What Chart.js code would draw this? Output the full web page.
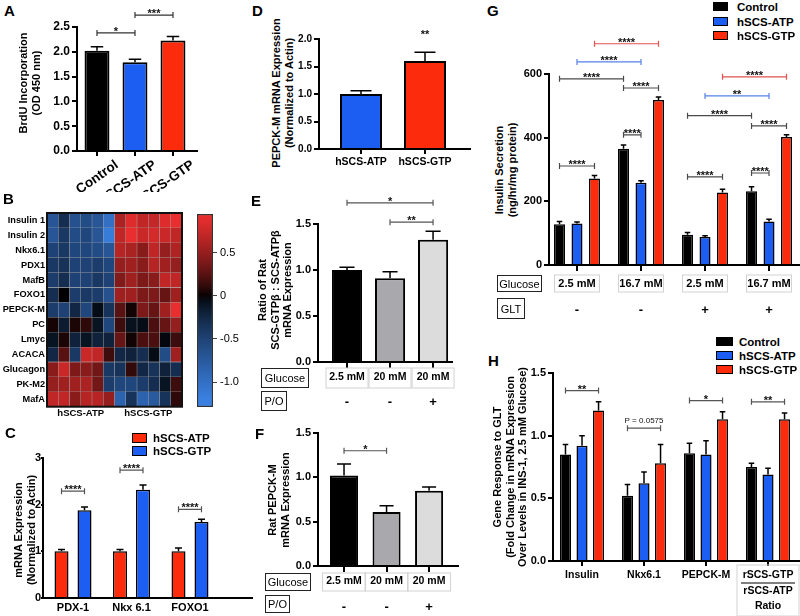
<!DOCTYPE html>
<html>
<head>
<meta charset="utf-8">
<script src="https://cdn.jsdelivr.net/npm/chart.js@4.4.1/dist/chart.umd.min.js"></script>
<style>
  body { margin: 0; background: #fff; }
  #fig { position: relative; width: 800px; height: 616px; overflow: hidden; font-family: 'Liberation Sans', Arial, sans-serif; color: #000; }
  #fig canvas { position: absolute; }
  .ytitle { position: absolute; white-space: nowrap; font-weight: bold; font-size: 11px; line-height: 12.5px; text-align: center; transform: translate(-50%, -50%) rotate(-90deg); }
  .letter { position: absolute; font-weight: bold; font-size: 15px; line-height: 15px; }
  .key { position: absolute; border: 1.5px solid #000; box-sizing: border-box; }
  .lab { position: absolute; font-weight: bold; font-size: 11.5px; white-space: nowrap; transform: translateY(-50%); }
  .hdr { position: absolute; border: 1.5px solid #222; box-sizing: border-box; font-size: 11px; display: flex; align-items: center; justify-content: center; }
</style>
</head>
<body>
<div id="fig"></div>
<script>
// ---------- data ----------
// A
const aLabels = ['Control', 'hSCS-ATP', 'hSCS-GTP'];
const aMeans = [2.02, 1.79, 2.23];
const aErr = [2.10, 1.85, 2.31];

// B heatmap (rows = genes, columns = 6 hSCS-ATP then 6 hSCS-GTP samples)
const genes = ['Insulin 1', 'Insulin 2', 'Nkx6.1', 'PDX1', 'MafB', 'FOXO1', 'PEPCK-M', 'PC', 'Lmyc', 'ACACA', 'Glucagon', 'PK-M2', 'MafA'];
const heatGroups = ['hSCS-ATP', 'hSCS-GTP'];
const heat = [
  [-0.70, -0.30, -0.65, -0.60, -0.70, -1.00, 0.60, 0.85, 0.70, 0.72, 0.85, 0.90],
  [-0.70, -0.40, -0.60, -0.55, -0.70, -1.15, 0.70, 0.92, 0.75, 0.80, 0.75, 0.70],
  [-0.50, -0.40, -0.55, -0.55, -0.60, -0.70, 0.65, 0.60, 0.45, 0.70, 0.50, 0.62],
  [-0.40, -0.35, -0.50, -0.50, -0.45, -0.55, 0.50, 0.55, 0.45, 0.65, 0.55, 0.50],
  [-0.45, -0.30, -0.50, -0.50, -0.40, -0.50, 0.42, 0.55, 0.40, 0.45, 0.70, 0.70],
  [-0.30, 0.00, -0.45, -0.40, -0.45, -0.65, 0.55, 0.55, 0.40, 0.40, 0.30, 0.55],
  [-0.45, -0.50, -0.25, -0.55, -0.05, -0.35, 0.25, 0.03, 0.40, 0.30, 0.55, 0.90],
  [0.04, -0.15, 0.05, 0.10, -0.10, -0.55, 0.15, -0.08, -0.05, 0.20, 0.30, 0.50],
  [-0.10, 0.05, -0.20, -0.10, -0.20, -0.20, 0.30, 0.03, 0.20, 0.20, -0.03, 0.15],
  [-0.25, 0.25, -0.40, 0.75, 0.70, 0.15, -0.25, -0.20, -0.30, -0.05, -0.60, 0.55],
  [0.45, 0.75, 0.40, 0.45, 0.35, -0.40, -0.35, 0.12, -0.25, -0.35, -0.20, -0.30],
  [0.50, 0.55, 0.55, 0.60, 0.35, -0.45, -0.55, -0.55, -0.45, -0.30, -0.10, 0.15],
  [0.70, 0.70, 0.45, 0.65, 0.65, 0.50, -0.85, -0.35, -0.85, -0.75, -0.35, 0.10]
];
const heatRange = [-1.29, 0.95];
const barTicks = [0.5, 0, -0.5, -1.0];

// C
const cLabels = ['PDX-1', 'Nkx 6.1', 'FOXO1'];
const cSeries = ['hSCS-ATP', 'hSCS-GTP'];
const cAtp = [1.0, 1.0, 1.0];
const cAtpErr = [1.04, 1.04, 1.07];
const cGtp = [1.88, 2.32, 1.63];
const cGtpErr = [1.95, 2.42, 1.69];

// D
const dLabels = ['hSCS-ATP', 'hSCS-GTP'];
const dMeans = [1.0, 1.6];
const dErr = [1.06, 1.76];

// E
const eGlucose = ['2.5 mM', '20 mM', '20 mM'];
const ePO = ['-', '-', '+'];
const eMeans = [1.0, 0.91, 1.33];
const eErr = [1.03, 0.98, 1.42];

// F
const fGlucose = ['2.5 mM', '20 mM', '20 mM'];
const fPO = ['-', '-', '+'];
const fMeans = [1.02, 0.61, 0.85];
const fErr = [1.15, 0.68, 0.89];

// G
const series = ['Control', 'hSCS-ATP', 'hSCS-GTP'];
const gGlucose = ['2.5 mM', '16.7 mM', '2.5 mM', '16.7 mM'];
const gGlt = ['-', '-', '+', '+'];
const gControl = [128, 365, 95, 232];
const gControlErr = [137, 377, 102, 246];
const gAtp = [130, 258, 88, 137];
const gAtpErr = [135, 265, 92, 144];
const gGtp = [272, 518, 228, 402];
const gGtpErr = [281, 528, 238, 409];

// H
const hLabels = ['Insulin', 'Nkx6.1', 'PEPCK-M', ['rSCS-GTP', 'rSCS-ATP', 'Ratio']];
const hControl = [0.85, 0.52, 0.86, 0.75];
const hControlErr = [0.93, 0.61, 0.94, 0.78];
const hAtp = [0.92, 0.62, 0.85, 0.69];
const hAtpErr = [1.00, 0.71, 0.96, 0.74];
const hGtp = [1.20, 0.78, 1.13, 1.13];
const hGtpErr = [1.27, 0.93, 1.19, 1.18];

// significance marks: [from [dataset, index], to [dataset, index], level, text, colour]
const aSig = [[[0, 0], [0, 1], 2.38, '*'], [[0, 1], [0, 2], 2.74, '***']];
const cSig = [[[0, 0], [1, 0], 2.29, '****'], [[0, 1], [1, 1], 2.74, '****'], [[0, 2], [1, 2], 1.90, '****']];
const dSig = [[[0, 1], null, 2.05, '**']];
const eSig = [[[0, 0], [0, 2], 1.73, '*'], [[0, 1], [0, 2], 1.52, '**']];
const fSig = [[[0, 0], [0, 1], 1.30, '*']];
const gSig = [
  [[2, 0], [2, 1], 695, '****', 'red'], [[1, 0], [1, 1], 638, '****', 'blue'],
  [[0, 0], [0, 1], 585, '****'], [[0, 1], [2, 1], 556, '****'],
  [[0, 1], [1, 1], 409, '****'], [[0, 0], [2, 0], 311, '****'],
  [[2, 2], [2, 3], 591, '****', 'red'], [[1, 2], [1, 3], 531, '**', 'blue'],
  [[0, 2], [0, 3], 469, '****'], [[0, 3], [2, 3], 437, '****'],
  [[0, 3], [1, 3], 289, '****'], [[0, 2], [2, 2], 277, '****']
];
const hSig = [[[0, 0], [2, 0], 1.36, '**'], [[0, 1], [2, 1], 1.06, 'P = 0.0575'], [[0, 2], [2, 2], 1.28, '*'], [[0, 3], [2, 3], 1.27, '**']];

// ---------- styles ----------
const FONT = "'Liberation Sans', Arial, sans-serif";
const black = '#000', blue = '#1d5ef2', red = '#fb2b0c', gray = '#a9a9ad', light = '#dcdcdc';
const sigColors = { red: '#e4514f', blue: '#5581e8' };

Chart.defaults.font.family = FONT;
Chart.defaults.font.size = 11;
Chart.defaults.font.weight = 'bold';
Chart.defaults.color = '#000';

const fig = document.getElementById('fig');

function canvas(box) {
  const c = document.createElement('canvas');
  c.width = box[2] - box[0];
  c.height = box[3] - box[1];
  c.style.left = box[0] + 'px';
  c.style.top = box[1] + 'px';
  fig.appendChild(c);
  return c;
}

function html(cls, content, style) {
  const d = document.createElement('div');
  d.className = cls;
  d.innerHTML = content;
  Object.assign(d.style, style);
  fig.appendChild(d);
  return d;
}

const xy = vals => vals.map((v, i) => ({ x: i, y: v }));

// error bars, significance brackets, extra table rows
const extras = {
  id: 'extras',
  afterDatasetsDraw(chart, args, o) {
    const ctx = chart.ctx, ys = chart.scales.y, xs = chart.scales.x;
    const barX = (d, i) => chart.getDatasetMeta(d).data[i].x;
    const base = chart.chartArea.bottom;
    ctx.save();
    chart.data.datasets.forEach((ds, d) => {
      if (!ds.err) return;
      chart.getDatasetMeta(d).data.forEach((bar, i) => {
        const top = ys.getPixelForValue(ds.err[i]);
        const cap = bar.width / 4;
        ctx.beginPath();
        ctx.moveTo(bar.x, bar.y);
        ctx.lineTo(bar.x, top);
        ctx.moveTo(bar.x - cap, top);
        ctx.lineTo(bar.x + cap, top);
        ctx.strokeStyle = '#000';
        ctx.lineWidth = o.errWidth || 1.5;
        ctx.stroke();
      });
    });
    (o.sig || []).forEach(([a, b, v, label, col]) => {
      const y = ys.getPixelForValue(v);
      const xa = barX(a[0], a[1]);
      const xb = b ? barX(b[0], b[1]) : xa;
      if (b) {
        ctx.beginPath();
        ctx.moveTo(xa, y); ctx.lineTo(xb, y);
        ctx.moveTo(xa, y - 3); ctx.lineTo(xa, y + 3);
        ctx.moveTo(xb, y - 3); ctx.lineTo(xb, y + 3);
        ctx.strokeStyle = sigColors[col] || o.sigColor || '#555';
        ctx.lineWidth = 1.2;
        ctx.stroke();
      }
      const star = /^\*+$/.test(label);
      ctx.font = star ? 'bold 11px ' + FONT : '8px ' + FONT;
      ctx.fillStyle = '#111';
      ctx.textAlign = 'center';
      ctx.textBaseline = 'alphabetic';
      ctx.fillText(label, (xa + xb) / 2, star ? y + 2 : y - 5);
    });
    if (o.table) {
      const t = o.table;
      xs.ticks.forEach((tk, i) => {
        const x = xs.getPixelForValue(tk.value);
        ctx.strokeStyle = '#d2d2d2';
        ctx.lineWidth = 1;
        ctx.strokeRect(x - t.boxW / 2, base + t.box[0], t.boxW, t.box[1] - t.box[0]);
        ctx.font = 'bold 13px ' + FONT;
        ctx.fillStyle = '#000';
        ctx.textAlign = 'center';
        ctx.textBaseline = 'middle';
        ctx.fillText(t.row[i], x, base + t.rowDy);
      });
    }
    if (o.fraction) {
      const f = o.fraction, x = xs.getPixelForValue(f.index);
      ctx.strokeStyle = '#000';
      ctx.lineWidth = 1;
      ctx.beginPath();
      ctx.moveTo(x - f.half, base + f.dy);
      ctx.lineTo(x + f.half, base + f.dy);
      ctx.stroke();
      ctx.strokeStyle = '#d2d2d2';
      ctx.strokeRect(x - f.boxW / 2, base + f.box[0], f.boxW, f.box[1] - f.box[0]);
    }
    ctx.restore();
  }
};

const frame = {
  id: 'frame',
  afterDatasetsDraw(chart) {
    const a = chart.chartArea, ctx = chart.ctx;
    ctx.save();
    ctx.strokeStyle = '#111';
    ctx.lineWidth = 2;
    ctx.strokeRect(a.left, a.top, a.right - a.left, a.bottom - a.top);
    ctx.restore();
  }
};

function barChart(cfg) {
  const [L, T, R, B] = cfg.box;
  const [x0, y0, x1, y1] = cfg.area;
  return new Chart(canvas(cfg.box), {
    type: 'bar',
    data: { datasets: cfg.datasets },
    options: {
      responsive: false,
      animation: false,
      layout: { padding: { left: 0, top: y0 - T, right: R - x1, bottom: 0 } },
      plugins: { legend: { display: false }, tooltip: { enabled: false }, extras: cfg.extras },
      scales: {
        x: {
          type: 'linear',
          offset: false,
          min: cfg.xRange[0],
          max: cfg.xRange[1],
          afterFit: s => { s.height = B - y1; },
          afterBuildTicks: s => { s.ticks = cfg.labels.map((_, i) => ({ value: i })); },
          ticks: Object.assign({ autoSkip: false, maxRotation: 0, padding: 3, callback: v => cfg.labels[v] }, cfg.xTicks),
          grid: { offset: false, drawOnChartArea: false, drawTicks: cfg.xTickLen !== 0, color: '#000', lineWidth: 2, tickLength: cfg.xTickLen || 5 },
          border: { color: '#000', width: 2 }
        },
        y: {
          min: 0,
          max: cfg.yMax,
          afterFit: s => { s.width = x0 - L; },
          ticks: Object.assign({ stepSize: cfg.yStep, padding: 2, callback: v => v.toFixed(cfg.dec) }, cfg.yTicks),
          grid: { drawOnChartArea: false, color: '#000', lineWidth: 2, tickLength: cfg.yTickLen || 5 },
          border: { color: '#000', width: 2 }
        }
      }
    },
    plugins: [extras]
  });
}

function heatColor(v) {
  let r, g, b;
  if (v >= 0) {
    const t = Math.pow(Math.min(v / 0.9, 1), 0.75);
    r = 232 * t; g = 46 * t; b = 46 * t;
  } else {
    const t = Math.pow(Math.min(-v / 1.2, 1), 0.75);
    r = 58 * t; g = 128 * t; b = 225 * t;
  }
  return `rgb(${Math.round(r)},${Math.round(g)},${Math.round(b)})`;
}

// ---------- A ----------
barChart({
  box: [40, 0, 205, 192], area: [77, 27, 197, 151],
  xRange: [-0.526, 2.632], labels: aLabels,
  yMax: 2.5, yStep: 0.5, dec: 1, yTicks: { font: { size: 12 } },
  xTicks: { minRotation: 35, maxRotation: 35, labelOffset: 20, padding: 1, font: { size: 13.5 } },
  datasets: [{ data: xy(aMeans), err: aErr, backgroundColor: [black, blue, red], borderColor: '#000', borderWidth: 2, categoryPercentage: 0.8, barPercentage: 0.82 }],
  extras: { sig: aSig, sigColor: '#333' }
});

// ---------- B heatmap ----------
new Chart(canvas([0, 195, 190, 422]), {
  type: 'bar',
  data: {
    labels: genes,
    datasets: heat[0].map((_, c) => ({
      data: genes.map(() => 1),
      backgroundColor: heat.map(row => heatColor(row[c])),
      borderColor: 'rgba(90,90,90,0.35)',
      borderWidth: 0.5,
      borderSkipped: false,
      barPercentage: 1,
      categoryPercentage: 1
    }))
  },
  options: {
    indexAxis: 'y',
    responsive: false,
    animation: false,
    layout: { padding: { left: 0, top: 18, right: 8, bottom: 0 } },
    plugins: { legend: { display: false }, tooltip: { enabled: false } },
    scales: {
      x: {
        type: 'linear', stacked: true, min: 0, max: heat[0].length,
        afterFit: s => { s.height = 15.3; },
        afterBuildTicks: s => {
          const per = heat[0].length / heatGroups.length;
          s.ticks = heatGroups.map((_, g) => ({ value: per * g + per / 2 }));
        },
        ticks: { font: { size: 9.5 }, padding: 1, callback: (v, i) => heatGroups[i] },
        grid: { display: false, drawTicks: false },
        border: { display: false }
      },
      y: {
        stacked: true,
        afterFit: s => { s.width = 47; },
        ticks: { font: { size: 9.2 }, padding: 2 },
        grid: { display: false, drawTicks: false },
        border: { display: false }
      }
    }
  },
  plugins: [frame]
});

// colour bar
new Chart(canvas([195, 195, 245, 420]), {
  type: 'bar',
  data: {
    labels: [''],
    datasets: [{
      data: [heatRange],
      backgroundColor: c => {
        const a = c.chart.chartArea;
        if (!a) return '#000';
        const g = c.chart.ctx.createLinearGradient(0, a.bottom, 0, a.top);
        for (let k = 0; k <= 24; k++) {
          g.addColorStop(k / 24, heatColor(heatRange[0] + (heatRange[1] - heatRange[0]) * k / 24));
        }
        return g;
      },
      borderColor: '#333',
      borderWidth: 1.5,
      borderSkipped: false,
      barPercentage: 1,
      categoryPercentage: 1
    }]
  },
  options: {
    responsive: false,
    animation: false,
    layout: { padding: { left: 2, top: 19, right: 0, bottom: 13 } },
    plugins: { legend: { display: false }, tooltip: { enabled: false } },
    scales: {
      x: { display: false },
      y: {
        position: 'right', min: heatRange[0], max: heatRange[1],
        afterFit: s => { s.width = 32; },
        afterBuildTicks: s => { s.ticks = barTicks.map(v => ({ value: v })); },
        ticks: { font: { weight: 'normal', size: 11 }, padding: 3, callback: v => (v === 0 ? '0' : v.toFixed(1)) },
        grid: { drawOnChartArea: false, tickLength: 4, color: '#444', lineWidth: 1 },
        border: { display: false }
      }
    }
  }
});

// ---------- C ----------
barChart({
  box: [0, 440, 262, 616], area: [43, 458, 252, 598],
  xRange: [-0.513, 3.06], labels: cLabels,
  yMax: 3, yStep: 1, dec: 0, yTickLen: 2, yTicks: { padding: 0 },
  xTickLen: 0, xTicks: { padding: 3.5 },
  datasets: [
    { data: xy(cAtp), err: cAtpErr, backgroundColor: red, borderColor: '#000', borderWidth: 1.5, categoryPercentage: 0.786, barPercentage: 0.61 },
    { data: xy(cGtp), err: cGtpErr, backgroundColor: blue, borderColor: '#000', borderWidth: 1.5, categoryPercentage: 0.786, barPercentage: 0.61 }
  ],
  extras: { sig: cSig }
});

// ---------- D ----------
barChart({
  box: [295, 0, 478, 180], area: [319, 39, 470, 149],
  xRange: [-0.656, 1.703], labels: dLabels,
  yMax: 2, yStep: 0.5, dec: 1, yTicks: { font: { size: 10 } },
  xTicks: { padding: 2, font: { size: 10.5 } },
  datasets: [{ data: xy(dMeans), err: dErr, backgroundColor: [blue, red], borderColor: '#000', borderWidth: 2, categoryPercentage: 1, barPercentage: 0.656 }],
  extras: { sig: dSig }
});

// ---------- E ----------
barChart({
  box: [295, 195, 470, 416], area: [318, 224, 452, 362],
  xRange: [-0.674, 2.44], labels: eGlucose,
  yMax: 1.5, yStep: 0.5, dec: 1,
  xTicks: { padding: 3, font: { size: 10.5 } }, xTickLen: 6,
  datasets: [{ data: xy(eMeans), err: eErr, backgroundColor: [black, gray, light], borderColor: '#000', borderWidth: 2, categoryPercentage: 1, barPercentage: 0.70 }],
  extras: { sig: eSig, table: { row: ePO, rowDy: 40, boxW: 42, box: [6, 26] } }
});

// ---------- F ----------
barChart({
  box: [295, 420, 470, 616], area: [318, 433, 458, 566],
  xRange: [-0.612, 2.68], labels: fGlucose,
  yMax: 1.5, yStep: 0.5, dec: 1,
  xTicks: { padding: 3, font: { size: 10.5 } }, xTickLen: 6,
  datasets: [{ data: xy(fMeans), err: fErr, backgroundColor: [black, gray, light], borderColor: '#000', borderWidth: 2, categoryPercentage: 1, barPercentage: 0.66 }],
  extras: { sig: fSig, table: { row: fPO, rowDy: 41, boxW: 43, box: [7, 25] } }
});

// ---------- G ----------
barChart({
  box: [520, 30, 800, 322], area: [549, 74, 800, 265],
  xRange: [-0.4375, 3.484], labels: gGlucose,
  yMax: 600, yStep: 200, dec: 0,
  xTicks: { padding: 6 }, xTickLen: 6,
  datasets: [
    { data: xy(gControl), err: gControlErr, backgroundColor: black, borderColor: '#000', borderWidth: 1.5, categoryPercentage: 0.82, barPercentage: 0.63 },
    { data: xy(gAtp), err: gAtpErr, backgroundColor: blue, borderColor: '#000', borderWidth: 1.5, categoryPercentage: 0.82, barPercentage: 0.63 },
    { data: xy(gGtp), err: gGtpErr, backgroundColor: red, borderColor: '#000', borderWidth: 1.5, categoryPercentage: 0.82, barPercentage: 0.63 }
  ],
  extras: { sig: gSig, sigColor: '#4a4a4a', table: { row: gGlt, rowDy: 45, boxW: 45, box: [10, 27] } }
});

// ---------- H ----------
barChart({
  box: [525, 362, 800, 616], area: [553, 373, 800, 561],
  xRange: [-0.468, 3.516], labels: hLabels,
  yMax: 1.5, yStep: 0.5, dec: 1,
  xTicks: { padding: 1, font: { size: 10.5, lineHeight: 1.5 } }, xTickLen: 5,
  datasets: [
    { data: xy(hControl), err: hControlErr, backgroundColor: black, borderColor: '#000', borderWidth: 1.5, categoryPercentage: 0.8, barPercentage: 0.67 },
    { data: xy(hAtp), err: hAtpErr, backgroundColor: blue, borderColor: '#000', borderWidth: 1.5, categoryPercentage: 0.8, barPercentage: 0.67 },
    { data: xy(hGtp), err: hGtpErr, backgroundColor: red, borderColor: '#000', borderWidth: 1.5, categoryPercentage: 0.8, barPercentage: 0.67 }
  ],
  extras: { sig: hSig, fraction: { index: 3, dy: 22, half: 27, boxW: 62, box: [4, 55] } }
});

// ---------- text: panel letters, axis titles, legends, row headers ----------
[['A', 4, 3], ['B', 3, 191], ['C', 5, 425], ['D', 252, 3], ['E', 251, 193], ['F', 255, 426], ['G', 487, 3], ['H', 488, 353]]
  .forEach(([t, x, y]) => html('letter', t, { left: x + 'px', top: y + 'px' }));

[
  ['BrdU Incorporation<br>(OD 450 nm)', 29, 83],
  ['mRNA Expression<br>(Normalized to Actin)', 23.5, 530],
  ['PEPCK-M mRNA Expression<br>(Normalized to Actin)', 282, 93],
  ['Ratio of Rat<br>SCS-GTPβ : SCS-ATPβ<br>mRNA Expression', 275, 290],
  ['Rat PEPCK-M<br>mRNA Expression', 278, 500],
  ['Insulin Secretion<br>(ng/hr/mg protein)', 505, 170],
  ['Gene Response to GLT<br>(Fold Change in mRNA Expression<br>Over Levels in INS-1, 2.5 mM Glucose)', 510, 467]
].forEach(([t, x, y]) => html('ytitle', t, { left: x + 'px', top: y + 'px' }));

function legend(names, colors, x, tops, w, h, tx) {
  names.forEach((n, i) => {
    html('key', '', { left: x + 'px', top: tops[i] + 'px', width: w + 'px', height: h + 'px', background: colors[i] });
    html('lab', n, { left: tx + 'px', top: (tops[i] + h / 2) + 'px' });
  });
}
legend(cSeries, [red, blue], 132, [433, 446], 15, 10, 153);
legend(series, [black, blue, red], 713, [2, 17, 31], 15, 9, 737);
legend(series, [black, blue, red], 716, [337, 351, 365], 17, 9, 739);

[
  ['Glucose', 261, 368, 48, 20], ['P/O', 261, 391, 26, 20],
  ['Glucose', 265, 573, 46, 18], ['P/O', 265, 595, 25, 18],
  ['Glucose', 497, 275, 45, 17], ['GLT', 497, 298, 28, 21]
].forEach(([t, x, y, w, h]) => html('hdr', t, { left: x + 'px', top: y + 'px', width: w + 'px', height: h + 'px' }));
</script>
</body>
</html>
